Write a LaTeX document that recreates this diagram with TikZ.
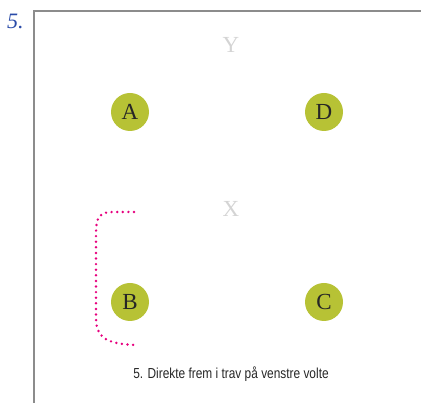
\documentclass[tikz,border=0pt]{standalone}
\usepackage{fontspec}
\setmainfont{Liberation Serif}
\newfontfamily\captionfont[FakeStretch=0.82]{Liberation Sans}
\usepackage{xcolor}
\usetikzlibrary{positioning}

\definecolor{letterGreen}{HTML}{B7C235}
\definecolor{pathPink}{HTML}{E6007E}
\definecolor{frameGray}{HTML}{8C8C8C}
\definecolor{markGray}{HTML}{D4D4D4}
\definecolor{noteBlue}{HTML}{2A4BA8}

\begin{document}
\begin{tikzpicture}[
    x=1pt, y=-1pt,
    % Define specific node styles
    letter_node/.style={circle, fill=letterGreen, minimum size=38pt, inner sep=0pt, font=\fontsize{23}{23}\selectfont, text=black!85},
    mark_node/.style={font=\fontsize{23}{23}\selectfont, text=markGray},
    caption_node/.style={font=\captionfont\fontsize{14.5}{15}\selectfont, text=black!85},
    track/.style={draw=pathPink, line width=2.7pt, line cap=round, dash pattern=on 0pt off 5.6pt},
]
\useasboundingbox (0,0) rectangle (421,403);

% Arena frame
\draw[frameGray, line width=2pt] (34,403) -- (34,11) -- (421,11);
\node[text=noteBlue, font=\itshape\fontsize{22}{22}\selectfont, anchor=south west, inner sep=0pt] (num) at (7,29) {5.};

% Letters
\node[letter_node] (A) at (130,112) {A};
\node[letter_node] (D) at (324,112) {D};
\node[letter_node] (B) at (130,302) {B};
\node[letter_node] (C) at (324,302) {C};

% Centre marks
\node[mark_node] (Y) at (231,45) {Y};
\node[mark_node] (X) at (231,209) {X};

% Track
\coordinate (start) at (134,212);
\coordinate (finish) at (136,345);
\draw[track] (start) -- (112,212) .. controls (96,212) and (96,222) .. (96,238)
    -- (96,318) .. controls (96,336) and (104,344) .. (finish);

\node[caption_node] (caption) at (231,374) {5. Direkte frem i trav på venstre volte};

\end{tikzpicture}
\end{document}
